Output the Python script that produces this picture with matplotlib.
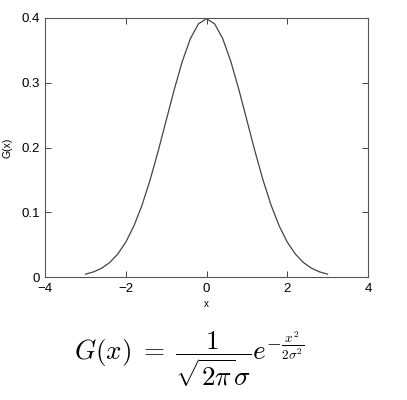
import numpy as np
import matplotlib.pyplot as plt

# values (right half mirrored)
x_half = [0.0, 0.2, 0.4, 0.6, 0.8, 1.0, 1.2, 1.4, 1.6, 1.8, 2.0, 2.2, 2.4, 2.6, 2.8, 3.0]
g_half = [0.3989, 0.3910, 0.3683, 0.3332, 0.2897, 0.2420, 0.1942, 0.1497, 0.1109, 0.0790,
          0.0540, 0.0355, 0.0224, 0.0136, 0.0079, 0.0044]
x = [-v for v in x_half[:0:-1]] + x_half
g = g_half[:0:-1] + g_half
xticks = [-4, -2, 0, 2, 4]
yticks = [0, 0.1, 0.2, 0.3, 0.4]

plt.rcParams['font.family'] = ['Liberation Sans', 'DejaVu Sans']
plt.rcParams['mathtext.fontset'] = 'cm'

fig = plt.figure(figsize=(4.07, 4.0), dpi=100)
ax = fig.add_axes([0.111, 0.3075, 0.793, 0.6475])
ax.plot(x, g, color='#444444', lw=0.9)
ax.set_xlim(-4, 4)
ax.set_ylim(0, 0.4)
ax.set_xticks(xticks)
ax.set_yticks(yticks)
ax.set_xticklabels(['\u22124', '\u22122', '0', '2', '4'])
ax.set_yticklabels(['0', '0.1', '0.2', '0.3', '0.4'])
ax.tick_params(direction='in', top=True, right=True, length=4, width=0.7,
               labelsize=9.5, color='#444444', pad=4)
for s in ax.spines.values():
    s.set_linewidth(0.8)
    s.set_color('#555555')
ax.set_xlabel('x', fontsize=7, labelpad=3)
ax.set_ylabel('G(x)', fontsize=7.5, labelpad=6)

fig.text(0.465, 0.102, r'$G(x)\;=\;\dfrac{1}{\sqrt{2\pi}\sigma}e^{-\frac{x^2}{2\sigma^2}}$',
         fontsize=19.5, ha='center', va='center')

fig.savefig('out.png', dpi=100)
